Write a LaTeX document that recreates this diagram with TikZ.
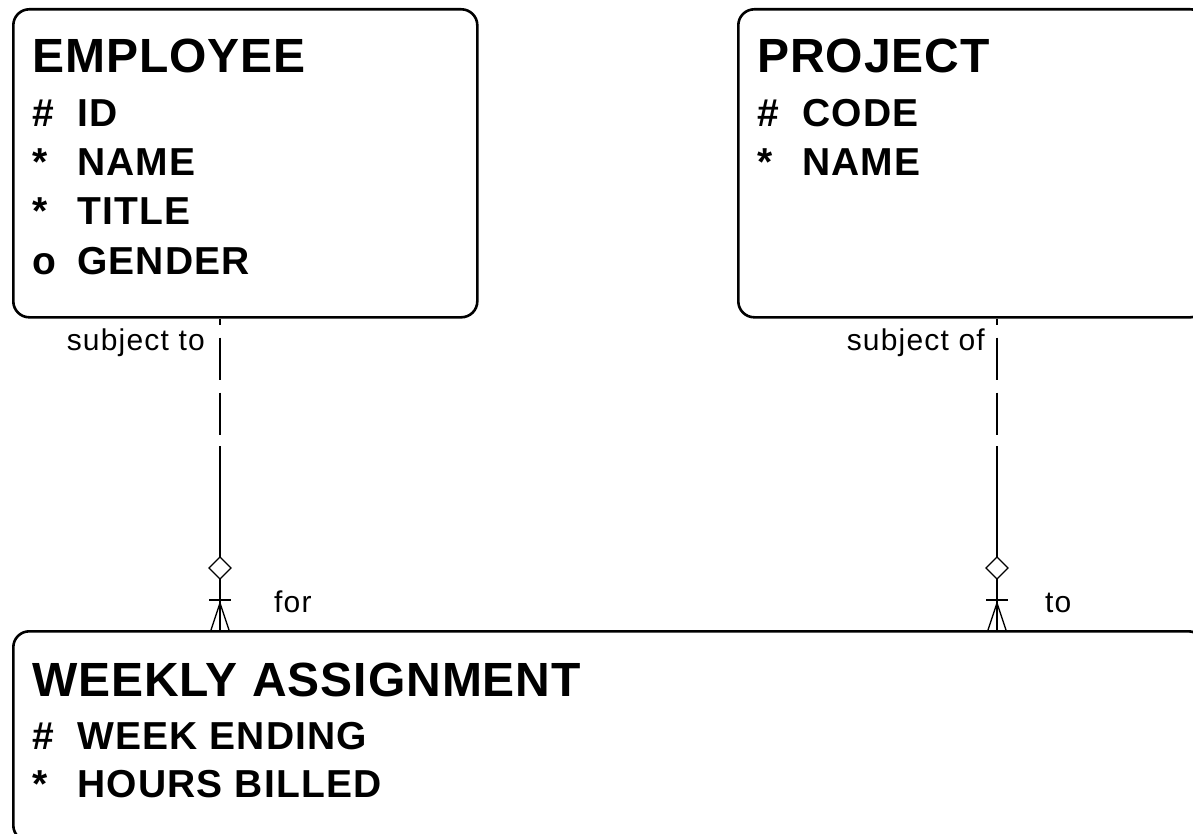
\documentclass[tikz,border=0pt]{standalone}
\usepackage{fontspec}
\setmainfont{Liberation Sans}
\tikzset{
  entity/.style={draw, line width=2.6pt, rounded corners=16pt, anchor=north west, inner sep=0pt},
  entname/.style={anchor=base west, inner sep=0pt, font=\fontsize{48}{50}\selectfont\bfseries\addfontfeature{LetterSpace=2}},
  attr/.style={anchor=base west, inner sep=0pt, font=\fontsize{39}{41}\selectfont\bfseries\addfontfeature{LetterSpace=3}},
  rel/.style={inner sep=0pt, font=\fontsize{30}{32}\selectfont\addfontfeature{LetterSpace=4}},
  link/.style={line width=1.3pt},
}
\begin{document}
\begin{tikzpicture}[x=1pt,y=-1pt]
  \clip (0,0) rectangle (1193,834);
  \fill[white] (0,0) rectangle (1193,834);

  % entities
  \node[entity, minimum width=464pt, minimum height=308pt] (employee) at (12,8) {};
  \node[entity, minimum width=468pt, minimum height=308pt] (project) at (737,8) {};
  \node[entity, minimum width=1191pt, minimum height=210pt] (weekly) at (12,630) {};

  \node[entname] (emptitle) at (32,73) {EMPLOYEE};
  \node[attr] (empidk) at (32,127) {\#};
  \node[attr] (empid) at (77,127) {ID};
  \node[attr] (empnamek) at (32,176) {*};
  \node[attr] (empname) at (77,176) {NAME};
  \node[attr] (emptitlek) at (32,225) {*};
  \node[attr] (emptitleatt) at (77,225) {TITLE};
  \node[attr] (empgenderk) at (32,274) {o};
  \node[attr] (empgender) at (77,274) {GENDER};

  \node[entname] (projtitle) at (757,73) {PROJECT};
  \node[attr] (projcodek) at (757,127) {\#};
  \node[attr] (projcode) at (802,127) {CODE};
  \node[attr] (projnamek) at (757,176) {*};
  \node[attr] (projname) at (802,176) {NAME};

  \node[entname] (wktitle) at (32,696) {WEEKLY ASSIGNMENT};
  \node[attr] (wkendk) at (32,749) {\#};
  \node[attr] (wkend) at (77,749) {WEEK ENDING};
  \node[attr] (wkhoursk) at (32,797) {*};
  \node[attr] (wkhours) at (77,797) {HOURS BILLED};

  % employee -- weekly assignment
  \coordinate (forx) at (220,0);
  \coordinate (fordash) at (220,446);
  \coordinate (fordia) at (220,568);
  \coordinate (forfoot) at (220,603);
  \draw[link, dash pattern=on 42pt off 13pt, dash phase=36pt] (employee.south -| forx) -- (fordash);
  \draw[link] (fordash) -- (weekly.north -| forx);
  \draw[link, fill=white] (fordia) +(0,-11) -- +(11,0) -- +(0,11) -- +(-11,0) -- cycle;
  \draw[link] (209,600) -- (231,600);
  \draw[link] (211,630) -- (forfoot) -- (229,630);
  \node[rel, anchor=base east] (subjto) at (205,350) {subject to};
  \node[rel, anchor=base west] (forlbl) at (274,612) {for};

  % project -- weekly assignment
  \coordinate (tox) at (997,0);
  \coordinate (todash) at (997,446);
  \coordinate (todia) at (997,568);
  \coordinate (tofoot) at (997,603);
  \draw[link, dash pattern=on 42pt off 13pt, dash phase=36pt] (project.south -| tox) -- (todash);
  \draw[link] (todash) -- (weekly.north -| tox);
  \draw[link, fill=white] (todia) +(0,-11) -- +(11,0) -- +(0,11) -- +(-11,0) -- cycle;
  \draw[link] (986,600) -- (1008,600);
  \draw[link] (988,630) -- (tofoot) -- (1006,630);
  \node[rel, anchor=base east] (subjof) at (985,350) {subject of};
  \node[rel, anchor=base west] (tolbl) at (1045,612) {to};
\end{tikzpicture}
\end{document}
